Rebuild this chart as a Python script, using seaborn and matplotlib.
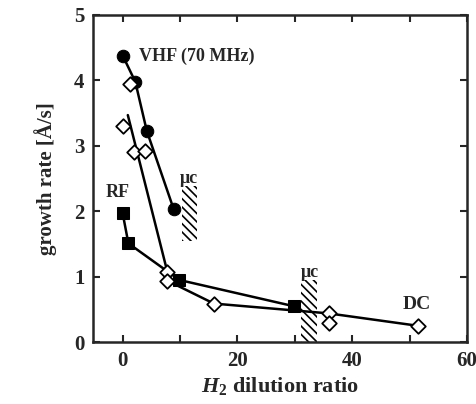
import numpy as np
import pandas as pd
import matplotlib
matplotlib.use("Agg")
import matplotlib.pyplot as plt
import seaborn as sns

# ---- data ----
vhf_x = [0.0, 2.2, 4.2, 8.9]
vhf_y = [4.38, 3.98, 3.23, 2.03]

rf_x = [0.0, 1.0, 9.9, 29.8]
rf_y = [1.97, 1.51, 0.95, 0.55]

dia_x = [1.2, 0.0, 2.0, 3.9, 7.8, 7.8, 15.9, 35.9, 35.9, 51.5]
dia_y = [3.95, 3.30, 2.90, 2.92, 1.07, 0.94, 0.59, 0.44, 0.29, 0.25]

fit_x = [0.9, 7.8]
fit_y = [3.47, 1.07]

dc_x = [7.8, 15.9, 35.9, 51.5]
dc_y = [0.94, 0.59, 0.44, 0.25]

muc1_x = [10.3, 12.9]
muc1_y = [1.55, 2.38]
muc2_x = [31.0, 33.8]
muc2_y = [0.0, 0.95]

xticks = [0, 10, 20, 30, 40, 50, 60]
xticklabels = ["0", "", "20", "", "40", "", "60"]
yticks = [0, 1, 2, 3, 4, 5]

sns.set_style("ticks")
plt.rcParams['font.family'] = ['Liberation Serif', 'DejaVu Serif']
plt.rcParams['font.weight'] = 'bold'
plt.rcParams['mathtext.fontset'] = 'custom'
plt.rcParams['mathtext.rm'] = 'Liberation Serif:bold'
plt.rcParams['mathtext.it'] = 'Liberation Serif:italic:bold'
plt.rcParams['mathtext.bf'] = 'Liberation Serif:bold'
plt.rcParams['hatch.linewidth'] = 1.2

fig = plt.figure(figsize=(4.76, 4.04), dpi=100)
ax = fig.add_axes([0.195, 0.153, 0.786, 0.810])

lw = 1.8
sns.lineplot(x=vhf_x, y=vhf_y, ax=ax, color='black', lw=lw, marker='o',
             markersize=9, markeredgecolor='black', markerfacecolor='black',
             sort=False, estimator=None)
sns.lineplot(x=rf_x, y=rf_y, ax=ax, color='black', lw=lw, marker='s',
             markersize=9, markeredgecolor='black', markerfacecolor='black',
             sort=False, estimator=None)
sns.lineplot(x=fit_x, y=fit_y, ax=ax, color='black', lw=lw, sort=False, estimator=None)
sns.lineplot(x=dc_x, y=dc_y, ax=ax, color='black', lw=lw, sort=False, estimator=None)
sns.scatterplot(x=dia_x, y=dia_y, ax=ax, marker='D', s=55, facecolor='white',
                edgecolor='black', linewidth=1.3, zorder=5)

for hx, hy in [(muc1_x, muc1_y), (muc2_x, muc2_y)]:
    ax.fill_between(hx, [hy[0]] * 2, [hy[1]] * 2, facecolor='none',
                    edgecolor='black', hatch='\\\\\\\\', linewidth=0, zorder=1)

ax.text(2.9, 4.36, "VHF (70 MHz)", fontsize=13, fontweight='bold', va='center', ha='left')
ax.text(-2.9, 2.28, "RF", fontsize=13, fontweight='bold', va='center', ha='left')
ax.text(51.3, 0.57, "DC", fontsize=14, fontweight='bold', va='center', ha='center')
ax.text(11.6, 2.5, "μc", fontsize=13, va='center', ha='center', fontweight='bold')
ax.text(32.6, 1.07, "μc", fontsize=13, va='center', ha='center', fontweight='bold')

ax.set_xlim(-5.2, 60)
ax.set_ylim(0, 5)
ax.set_xticks(xticks)
ax.set_xticklabels(xticklabels)
ax.set_yticks(yticks)
ax.tick_params(direction='in', length=5, width=1.5, top=True, right=True,
               labelsize=15, pad=6)
for lab in ax.get_xticklabels() + ax.get_yticklabels():
    lab.set_fontweight('bold')
for sp in ax.spines.values():
    sp.set_linewidth(1.8)
    sp.set_visible(True)

ax.set_xlabel(r"$H_{\mathrm{2}}$ dilution ratio", fontsize=16, fontweight='bold', labelpad=3)
ax.set_ylabel("growth rate [Å/s]", fontsize=15, fontweight='bold', labelpad=12)

fig.savefig("out.png", dpi=100)
